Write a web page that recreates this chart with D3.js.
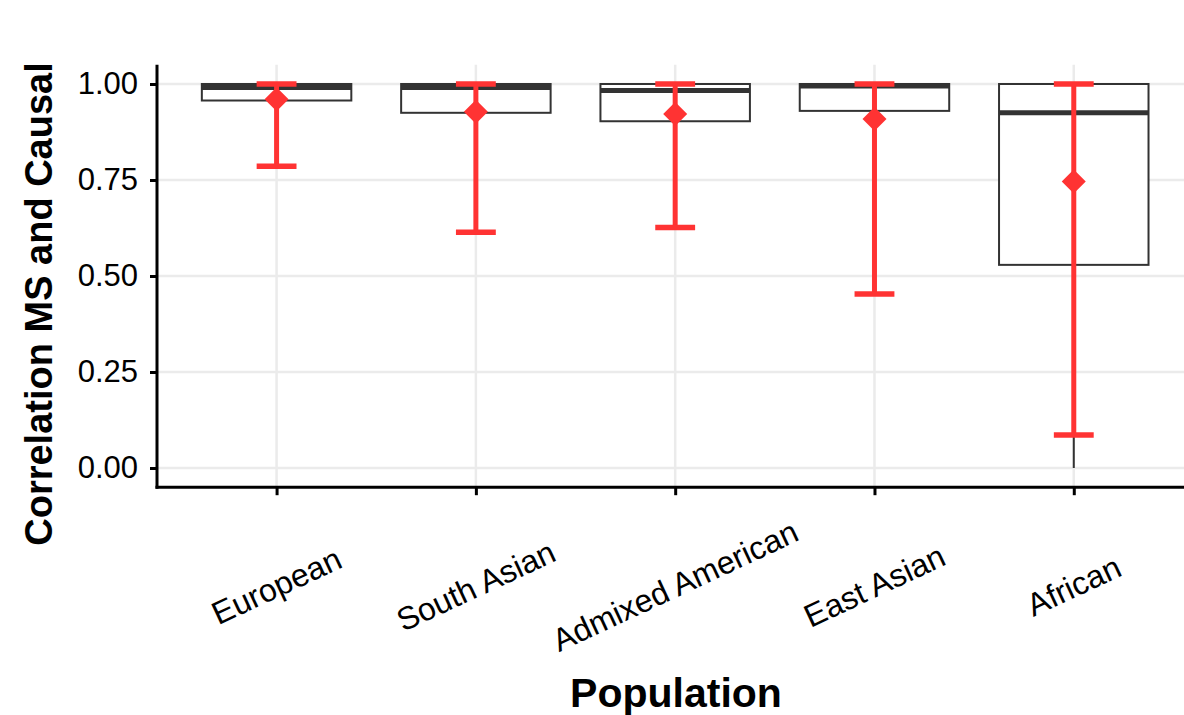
<!DOCTYPE html>
<html>
<head>
<meta charset="utf-8">
<script src="https://cdn.jsdelivr.net/npm/d3@7"></script>
<style>
  body { margin: 0; background: #fff; }
  text { font-family: "Liberation Sans", Arial, Helvetica, sans-serif; }
</style>
</head>
<body>
<script>
const WIDTH = 1184
const HEIGHT = 715

// data
const populations = ["European", "South Asian", "Admixed American", "East Asian", "African"]
const boxLow = [0.957, 0.925, 0.903, 0.930, 0.529]
const boxMedian = [0.991, 0.991, 0.983, 0.995, 0.925]
const boxHigh = [1.00, 1.00, 1.00, 1.00, 1.00]
const whiskerLow = [0.90, 0.80, 0.80, 0.80, 0.00]
const whiskerHigh = [1.00, 1.00, 1.00, 1.00, 1.00]
const meanValue = [0.960, 0.928, 0.922, 0.909, 0.746]
const errLow = [0.786, 0.614, 0.626, 0.453, 0.086]
const errHigh = [1.00, 1.00, 1.00, 1.00, 1.00]
const yTicks = [0, 0.25, 0.5, 0.75, 1]

const rows = populations.map((p, i) => ({
  pop: p, lo: boxLow[i], med: boxMedian[i], hi: boxHigh[i],
  wlo: whiskerLow[i], whi: whiskerHigh[i],
  mean: meanValue[i], elo: errLow[i], ehi: errHigh[i]
}))

const left = 157
const step = 199.3
const RED = "#FF3333"

const x = d3.scalePoint()
  .domain(populations)
  .range([left, left + 5.2 * step])
  .padding(0.6)

const y = d3.scaleLinear()
  .domain([0, 1])
  .range([468, 84])

const yBottom = y(-0.05)
const yTop = y(1.05)
const right = left + 5.2 * step

const svg = d3.select("body")
  .append("svg")
  .attr("width", WIDTH)
  .attr("height", HEIGHT)

// grid
const grid = svg.append("g")
grid.selectAll(".hgrid")
  .data(yTicks)
  .enter()
  .append("line")
  .attr("x1", left).attr("x2", right)
  .attr("y1", d => y(d)).attr("y2", d => y(d))
  .attr("stroke", "#EBEBEB").attr("stroke-width", 2.5)
grid.selectAll(".vgrid")
  .data(populations)
  .enter()
  .append("line")
  .attr("x1", d => x(d)).attr("x2", d => x(d))
  .attr("y1", yTop).attr("y2", yBottom)
  .attr("stroke", "#EBEBEB").attr("stroke-width", 2.5)

// boxplots
const boxW = 0.75 * step
const boxes = svg.append("g")
boxes.selectAll(".wl")
  .data(rows)
  .enter()
  .append("line")
  .attr("x1", d => x(d.pop)).attr("x2", d => x(d.pop))
  .attr("y1", d => y(d.lo)).attr("y2", d => y(d.wlo))
  .attr("stroke", "#333").attr("stroke-width", 2)
boxes.selectAll(".wh")
  .data(rows)
  .enter()
  .append("line")
  .attr("x1", d => x(d.pop)).attr("x2", d => x(d.pop))
  .attr("y1", d => y(d.hi)).attr("y2", d => y(d.whi))
  .attr("stroke", "#333").attr("stroke-width", 2)
boxes.selectAll("rect")
  .data(rows)
  .enter()
  .append("rect")
  .attr("x", d => x(d.pop) - boxW / 2)
  .attr("width", boxW)
  .attr("y", d => y(d.hi))
  .attr("height", d => y(d.lo) - y(d.hi))
  .attr("fill", "#fff")
  .attr("stroke", "#333").attr("stroke-width", 2)
boxes.selectAll(".med")
  .data(rows)
  .enter()
  .append("line")
  .attr("x1", d => x(d.pop) - boxW / 2).attr("x2", d => x(d.pop) + boxW / 2)
  .attr("y1", d => y(d.med)).attr("y2", d => y(d.med))
  .attr("stroke", "#333").attr("stroke-width", 5)

// red error bars + mean diamonds
const capW = 0.2 * step
const err = svg.append("g")
err.selectAll(".ev")
  .data(rows)
  .enter()
  .append("line")
  .attr("x1", d => x(d.pop)).attr("x2", d => x(d.pop))
  .attr("y1", d => y(d.elo)).attr("y2", d => y(d.ehi))
  .attr("stroke", RED).attr("stroke-width", 5)
err.selectAll(".ctop")
  .data(rows)
  .enter()
  .append("line")
  .attr("x1", d => x(d.pop) - capW / 2).attr("x2", d => x(d.pop) + capW / 2)
  .attr("y1", d => y(d.ehi)).attr("y2", d => y(d.ehi))
  .attr("stroke", RED).attr("stroke-width", 5.5)
err.selectAll(".cbot")
  .data(rows)
  .enter()
  .append("line")
  .attr("x1", d => x(d.pop) - capW / 2).attr("x2", d => x(d.pop) + capW / 2)
  .attr("y1", d => y(d.elo)).attr("y2", d => y(d.elo))
  .attr("stroke", RED).attr("stroke-width", 5.5)
const dm = 12
err.selectAll("path")
  .data(rows)
  .enter()
  .append("path")
  .attr("d", d => {
    const cx = x(d.pop), cy = y(d.mean)
    return `M${cx},${cy - dm}L${cx + dm},${cy}L${cx},${cy + dm}L${cx - dm},${cy}Z`
  })
  .attr("fill", RED)

// axes
const yAxis = svg.append("g")
  .attr("transform", `translate(${left},0)`)
  .call(d3.axisLeft(y).tickValues(yTicks).tickFormat(d3.format(".2f")).tickSize(7).tickPadding(12))
yAxis.select(".domain").attr("d", `M0,${yTop}V${yBottom + 1.5}`).attr("stroke", "#000").attr("stroke-width", 3)
yAxis.selectAll(".tick line").attr("stroke", "#000").attr("stroke-width", 3)
yAxis.selectAll(".tick text").attr("font-size", 31).attr("fill", "#000")
  .style("font-family", '"Liberation Sans", Arial, sans-serif')

const xAxis = svg.append("g")
  .attr("transform", `translate(0,${yBottom})`)
  .call(d3.axisBottom(x).tickSize(8).tickFormat(""))
xAxis.select(".domain").attr("d", `M${left - 1.5},0H${right}`).attr("stroke", "#000").attr("stroke-width", 3)
xAxis.selectAll(".tick line").attr("stroke", "#000").attr("stroke-width", 3)

svg.append("g")
  .selectAll("text")
  .data(populations)
  .enter()
  .append("text")
  .attr("transform", d => `translate(${x(d)},586) rotate(-25)`)
  .attr("text-anchor", "middle")
  .attr("dominant-baseline", "central")
  .attr("font-size", 32)
  .attr("fill", "#000")
  .text(d => d)

// titles
svg.append("text")
  .attr("x", 676).attr("y", 707)
  .attr("text-anchor", "middle")
  .attr("font-size", 41).attr("font-weight", "bold")
  .text("Population")

svg.append("text")
  .attr("transform", `translate(52,304) rotate(-90)`)
  .attr("text-anchor", "middle")
  .attr("font-size", 38).attr("font-weight", "bold")
  .text("Correlation MS and Causal")
</script>
</body>
</html>
